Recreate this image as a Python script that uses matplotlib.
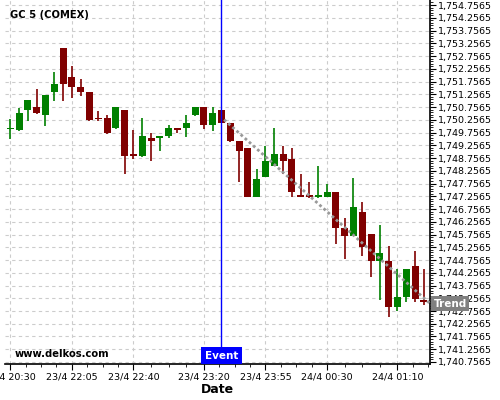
import matplotlib
matplotlib.use("Agg")
import matplotlib.pyplot as plt
import numpy as np

# 5-min candles, indexed by position (the feed has time gaps)
opens = [1749.88, 1749.85, 1750.64, 1750.76, 1750.44, 1751.35, 1753.07, 1751.93,
         1751.54, 1751.35, 1750.33, 1750.33, 1749.94, 1750.64, 1748.87, 1748.85,
         1749.53, 1749.55, 1749.63, 1749.93, 1749.93, 1750.44, 1750.77, 1750.05,
         1750.64, 1750.13, 1749.41, 1749.14, 1747.24, 1748.02, 1748.46, 1748.91,
         1748.72, 1747.30, 1747.28, 1747.23, 1747.24, 1747.42, 1746.01, 1745.71,
         1746.64, 1745.78, 1744.73, 1744.73, 1742.92, 1743.32, 1744.52, 1743.19]
highs = [1750.30, 1750.73, 1751.03, 1751.45, 1751.23, 1752.12, 1753.07, 1752.36,
         1751.84, 1751.35, 1750.61, 1750.43, 1750.76, 1750.64, 1749.84, 1750.31,
         1749.73, 1749.58, 1750.04, 1749.93, 1750.44, 1750.77, 1750.77, 1750.77,
         1750.64, 1750.13, 1749.41, 1749.14, 1748.31, 1749.23, 1749.92, 1749.23,
         1749.14, 1748.13, 1747.82, 1748.44, 1747.73, 1747.42, 1746.39, 1747.99,
         1747.03, 1745.78, 1746.12, 1745.29, 1744.42, 1744.40, 1745.11, 1744.40]
lows = [1749.52, 1749.83, 1750.22, 1750.48, 1750.02, 1751.00, 1751.00, 1751.12,
        1751.20, 1750.22, 1750.22, 1749.71, 1749.91, 1748.12, 1748.71, 1748.81,
        1748.63, 1749.02, 1749.53, 1749.72, 1749.59, 1750.40, 1749.91, 1749.83,
        1750.12, 1749.40, 1747.82, 1747.22, 1747.22, 1748.00, 1748.45, 1748.13,
        1747.22, 1747.22, 1747.20, 1747.20, 1747.22, 1745.40, 1744.78, 1745.70,
        1744.90, 1744.08, 1743.19, 1742.53, 1742.77, 1743.11, 1743.11, 1742.98]
closes = [1749.92, 1750.52, 1751.03, 1750.52, 1751.23, 1751.66, 1751.66, 1751.54,
          1751.35, 1750.25, 1750.27, 1749.75, 1750.76, 1748.85, 1748.84, 1749.62,
          1749.43, 1749.58, 1749.93, 1749.85, 1750.13, 1750.77, 1750.05, 1750.51,
          1750.14, 1749.44, 1749.04, 1747.24, 1747.93, 1748.64, 1748.91, 1748.65,
          1747.44, 1747.24, 1747.23, 1747.31, 1747.42, 1746.02, 1745.71, 1746.83,
          1745.25, 1744.73, 1745.03, 1742.92, 1743.32, 1744.40, 1743.21, 1743.11]

tick_idx = [0, 7, 14, 22, 29, 36, 44]
tick_labels = ["23/4 20:30", "23/4 22:05", "23/4 22:40", "23/4 23:20",
               "23/4 23:55", "24/4 00:30", "24/4 01:10"]

event_idx = 24
trend_x = [24.3, 47.7]
trend_y = [1750.26, 1743.05]

y_ticks = np.arange(1740.7565, 1754.80, 0.5)

fig = plt.figure(figsize=(5, 4), dpi=100)
ax = fig.add_axes([0.01, 0.09, 0.85, 0.91])

x = np.arange(len(opens))
o = np.array(opens)
c = np.array(closes)
up = c >= o
colors = np.where(up, "#008000", "#800000")
body_lo = np.minimum(o, c)
body_h = np.maximum(np.abs(c - o), 0.07)

ax.vlines(x, lows, highs, colors=colors, linewidth=1.2, zorder=3)
ax.bar(x, body_h, bottom=body_lo, width=0.8, color=colors, zorder=4)

# trend line and event marker
ax.plot(trend_x, trend_y, linestyle=(0, (1, 1)), color="#999999", linewidth=2, zorder=5)
ax.axvline(event_idx, color="#0000ff", linewidth=1, zorder=6)

ax.set_xlim(-0.6, 47.7)
ax.set_ylim(1740.678, 1754.953)

ax.set_xticks(tick_idx)
ax.set_xticklabels(tick_labels, fontsize=6.8)
minor_x = []
for a, b in zip(tick_idx[:-1], tick_idx[1:]):
    minor_x += list(np.linspace(a, b, 5)[1:-1])
minor_x += [44 + 1.75, 44 + 3.5]
ax.set_xticks(minor_x, minor=True)

ax.yaxis.tick_right()
ax.set_yticks(y_ticks)
ax.set_yticklabels([f"{v:,.4f}" for v in y_ticks], fontsize=6.8)
ax.set_yticks(np.arange(1740.7565, 1754.95, 0.1), minor=True)

ax.tick_params(axis="both", which="major", length=4, width=0.8, pad=2)
ax.tick_params(axis="both", which="minor", length=2, width=0.6)

for s in ["top", "left"]:
    ax.spines[s].set_visible(False)
ax.spines["right"].set_linewidth(1.2)
ax.spines["bottom"].set_linewidth(1.2)

ax.grid(True, which="major", linestyle=(0, (3, 3)), color="#cccccc", linewidth=0.8)
ax.set_axisbelow(True)

ax.set_xlabel("Date", fontsize=9, fontweight="bold", labelpad=1)

ax.text(0.012, 0.958, "GC 5 (COMEX)", transform=ax.transAxes, fontsize=7.2,
        fontweight="bold", va="center", ha="left")
ax.text(0.0235, 0.0275, "www.delkos.com", transform=ax.transAxes, fontsize=7.2,
        fontweight="bold", va="center", ha="left")

ax.text(event_idx, 0.009, "Event", transform=ax.get_xaxis_transform(), fontsize=7.5,
        fontweight="bold", color="white", ha="center", va="bottom", zorder=7,
        bbox=dict(boxstyle="square,pad=0.35", facecolor="#0000ff", edgecolor="none"))

ax.text(1.008, trend_y[-1], "Trend", transform=ax.get_yaxis_transform(), fontsize=7.5,
        fontweight="bold", color="white", ha="left", va="center", zorder=7,
        clip_on=False,
        bbox=dict(boxstyle="square,pad=0.25", facecolor="#808080", edgecolor="none"))

fig.savefig("out.png", dpi=100)
plt.close(fig)
